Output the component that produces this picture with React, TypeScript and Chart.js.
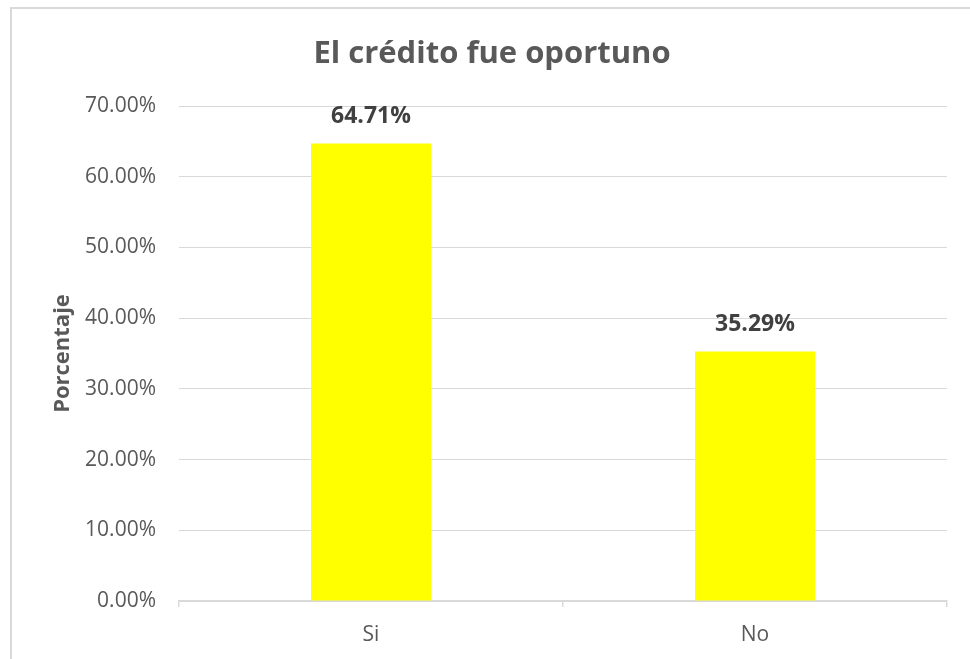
import React, { useEffect, useRef } from "react";
import { Chart, registerables } from "chart.js";

Chart.register(...registerables);

const categories = ["Si", "No"];
const values = [64.71, 35.29];
const yTicks = [0, 10, 20, 30, 40, 50, 60, 70];
const chartTitle = "El crédito fue oportuno";
const yAxisTitle = "Porcentaje";

const FONT = "'Open Sans', 'DejaVu Sans', sans-serif";
const GREY = "#595959";
const LINE = "#d9d9d9";

export default function App() {
  const ref = useRef<HTMLCanvasElement | null>(null);

  useEffect(() => {
    if (!ref.current) return;
    const frame = {
      id: "frame",
      beforeDraw(chart: any) {
        const ctx = chart.ctx;
        ctx.save();
        ctx.fillStyle = "#ffffff";
        ctx.fillRect(0, 0, chart.width, chart.height);
        ctx.strokeStyle = LINE;
        ctx.lineWidth = 2;
        ctx.strokeRect(11, 8, chart.width + 20, chart.height + 20);
        ctx.restore();
      },
      afterDraw(chart: any) {
        const ctx = chart.ctx;
        ctx.save();
        ctx.fillStyle = GREY;
        ctx.font = `bold 31px ${FONT}`;
        ctx.textAlign = "center";
        ctx.textBaseline = "middle";
        ctx.fillText(chartTitle, 492, 54);
        ctx.restore();
      },
    };
    const labels = {
      id: "valueLabels",
      afterDatasetsDraw(chart: any) {
        const ctx = chart.ctx;
        const meta = chart.getDatasetMeta(0);
        ctx.save();
        ctx.fillStyle = "#404040";
        ctx.font = `bold 23px ${FONT}`;
        ctx.textAlign = "center";
        ctx.textBaseline = "middle";
        meta.data.forEach((el: any, i: number) => {
          ctx.fillText(values[i].toFixed(2) + "%", el.x, el.y - 27);
        });
        ctx.restore();
      },
    };
    const chart = new Chart(ref.current, {
      type: "bar",
      data: {
        labels: categories,
        datasets: [
          {
            data: values,
            backgroundColor: "#FFFF00",
            barPercentage: 0.3125,
            categoryPercentage: 1,
          },
        ],
      },
      options: {
        animation: false,
        responsive: false,
        layout: { padding: { top: 106, right: 23, bottom: 0, left: 0 } },
        plugins: {
          legend: { display: false },
          title: { display: false },
          tooltip: { enabled: false },
        },
        scales: {
          x: {
            grid: {
              offset: true,
              drawOnChartArea: false,
              drawTicks: true,
              tickLength: 6,
              color: LINE,
              lineWidth: 1.5,
            },
            border: { color: LINE, width: 1.5 },
            ticks: { font: { family: FONT, size: 21 }, color: GREY, padding: 15 },
            afterFit(scale: any) {
              scale.height = 58;
            },
          },
          y: {
            min: 0,
            max: 70,
            afterBuildTicks(scale: any) {
              scale.ticks = yTicks.map((v) => ({ value: v }));
            },
            ticks: {
              font: { family: FONT, size: 21 },
              color: GREY,
              padding: 23,
              callback: (v: any) => Number(v).toFixed(2) + "%",
            },
            grid: { color: LINE, lineWidth: 1, drawTicks: false },
            border: { display: false },
            title: {
              display: true,
              text: yAxisTitle,
              color: GREY,
              font: { family: FONT, size: 22, weight: "bold" },
              padding: { top: 50, bottom: 0 },
            },
            afterFit(scale: any) {
              scale.width = 179;
            },
          },
        },
      },
      plugins: [frame, labels],
    });
    return () => chart.destroy();
  }, []);

  return (
    <div style={{ position: "fixed", left: 0, top: 0, width: 970, height: 659 }}>
      <canvas ref={ref} width={970} height={659} style={{ width: 970, height: 659 }} />
    </div>
  );
}
